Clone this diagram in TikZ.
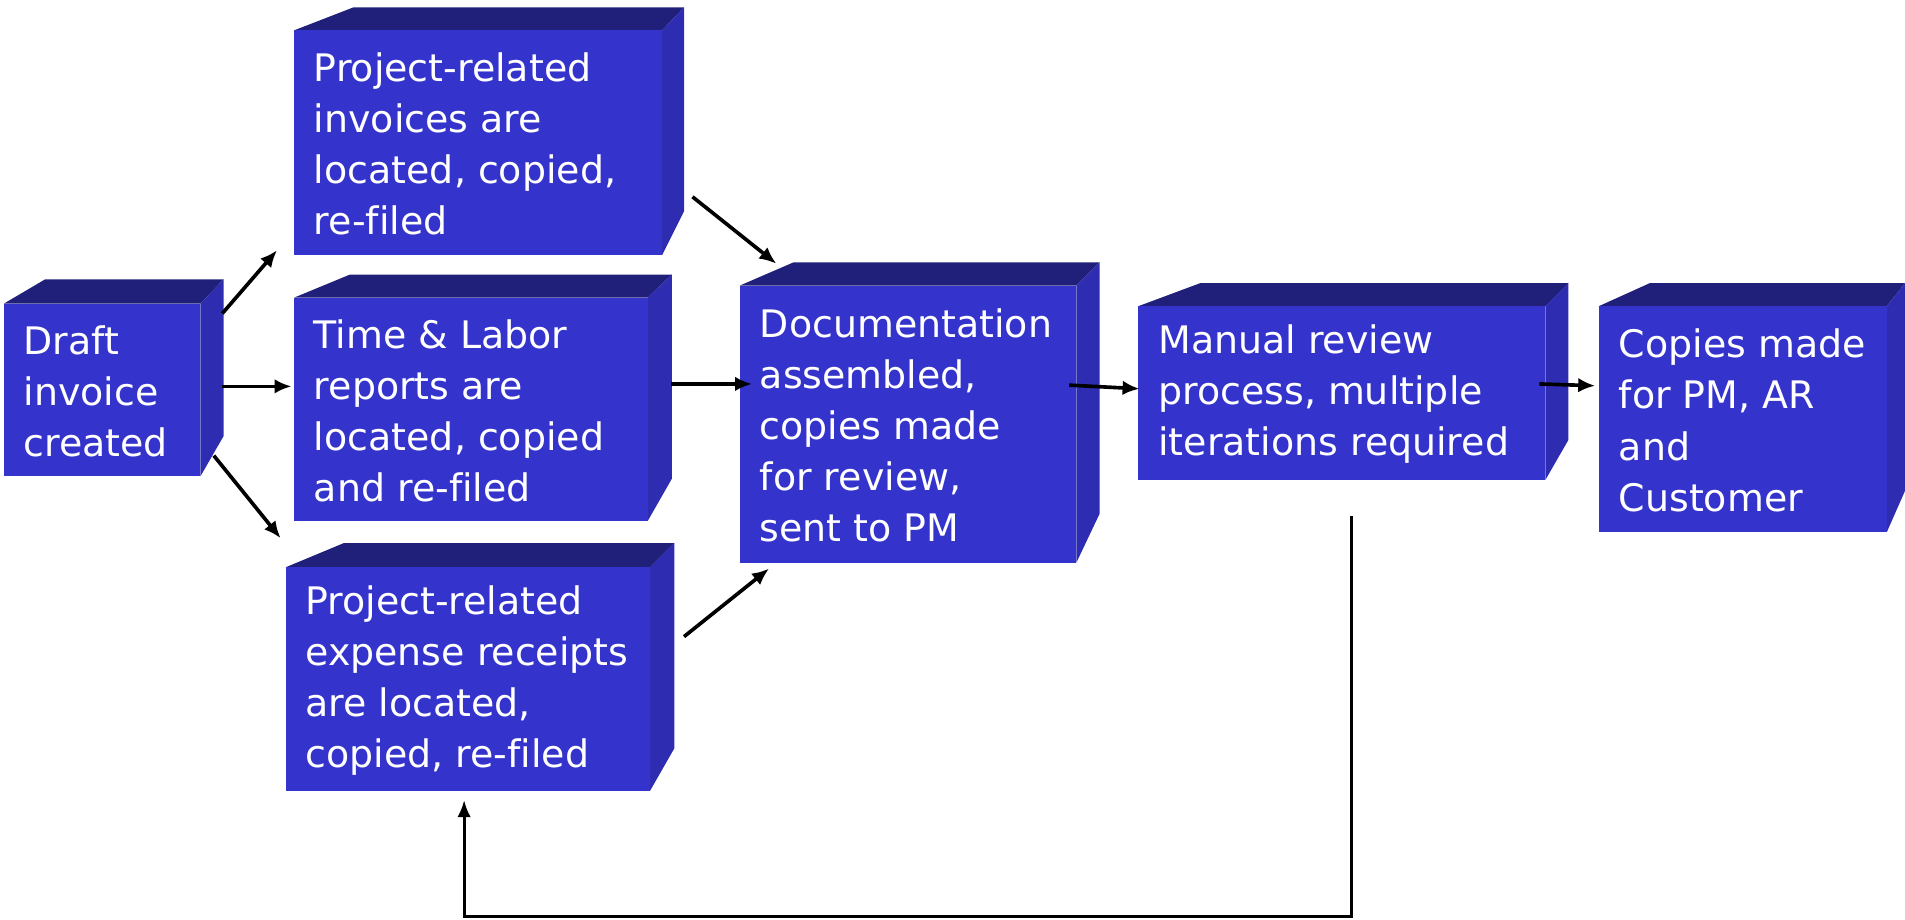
\documentclass[tikz,border=0pt]{standalone}
\usepackage{fontspec}
\setmainfont[Ligatures=CommonOff]{DejaVu Sans}
\usetikzlibrary{arrows.meta}
\definecolor{frontc}{RGB}{52,51,204}
\definecolor{topc}{RGB}{32,32,122}
\definecolor{sidec}{RGB}{46,45,178}
\tikzset{
 face/.style={rectangle, fill=frontc, inner sep=0pt, outer sep=0pt},
 txt/.style={text=white, align=left, inner sep=0pt, anchor=west, font=\fontsize{15.6}{21}\selectfont},
 arr/.style={line width=1.5pt, -{Latex[length=7pt,width=6pt]}},
 farr/.style={line width=1.2pt, -{Latex[length=7pt,width=5.5pt]}},
}
% #1 name, #2 x1, #3 y1, #4 x2, #5 y2, #6 back-left x, #7 back-right x, #8 back-top y, #9 side back-bottom y
\newcommand{\pcube}[9]{%
  \fill[topc] (#2,#3) -- (#6,#8) -- (#7,#8) -- (#4,#3) -- cycle;
  \fill[sidec] (#4,#3) -- (#7,#8) -- (#7,#9) -- (#4,#5) -- cycle;
  \pgfmathsetmacro{\cubew}{(#4-#2)*0.5}%
  \pgfmathsetmacro{\cubeh}{(#5-#3)*0.5}%
  \node[face, minimum width=\cubew pt, minimum height=\cubeh pt] (#1) at ({(#2+#4)/2},{(#3+#5)/2}) {};
  \node[txt] (#1t) at ({#2+16},{(#3+#5)/2+1})%
}
\begin{document}
\begin{tikzpicture}[x=0.5pt,y=-0.5pt]
\useasboundingbox (0,0) rectangle (1568,757);
\pcube{A}{3}{250}{165}{392}{37}{184}{230}{359}{Draft\\invoice\\created};
\pcube{B}{242}{25}{545}{210}{291}{563}{6}{174}{Project-related\\invoices are\\located, copied,\\re-filed};
\pcube{C}{242}{245}{533}{429}{288}{553}{226}{394}{Time \& Labor\\reports are\\located, copied\\and re-filed};
\pcube{D}{235}{467}{535}{651}{283}{555}{447}{616}{Project-related\\expense receipts\\are located,\\copied, re-filed};
\pcube{E}{609}{235}{886}{463}{653}{905}{216}{423}{Documentation\\assembled,\\copies made\\for review,\\sent to PM};
\pcube{F}{937}{252}{1272}{395}{988}{1291}{233}{362}{Manual review\\process, multiple\\iterations required};
\pcube{G}{1316}{252}{1553}{438}{1358}{1568}{233}{404}{Copies made\\for PM, AR\\and\\Customer};
\draw[arr] ([shift={(18,8)}]A.north east) -- ([shift={(-14,-4)}]B.south west);
\draw[arr] ([shift={(18,-3)}]A.east) -- ([shift={(-2,-19)}]C.west);
\draw[arr] ([shift={(11,-17)}]A.south east) -- ([shift={(-4,-24)}]D.north west);
\draw[arr] ([shift={(25,-48)}]B.south east) -- ([shift={(30,-18)}]E.north west);
\draw[arr] ([shift={(19,-21)}]C.east) -- ([shift={(10,-33)}]E.west);
\draw[arr] ([shift={(28,-35)}]D.east) -- ([shift={(24,5)}]E.south west);
\draw[arr] ([shift={(-6,-32)}]E.east) -- ([shift={(1,-3.5)}]F.west);
\draw[arr] ([shift={(-5,-7.5)}]F.east) -- ([shift={(-3,-27.5)}]G.west);
\draw[farr] ([shift={(8,30)}]F.south) |- ([shift={(-3,103.5)}]D.south) -- ([shift={(-3,7.5)}]D.south);
\end{tikzpicture}
\end{document}
